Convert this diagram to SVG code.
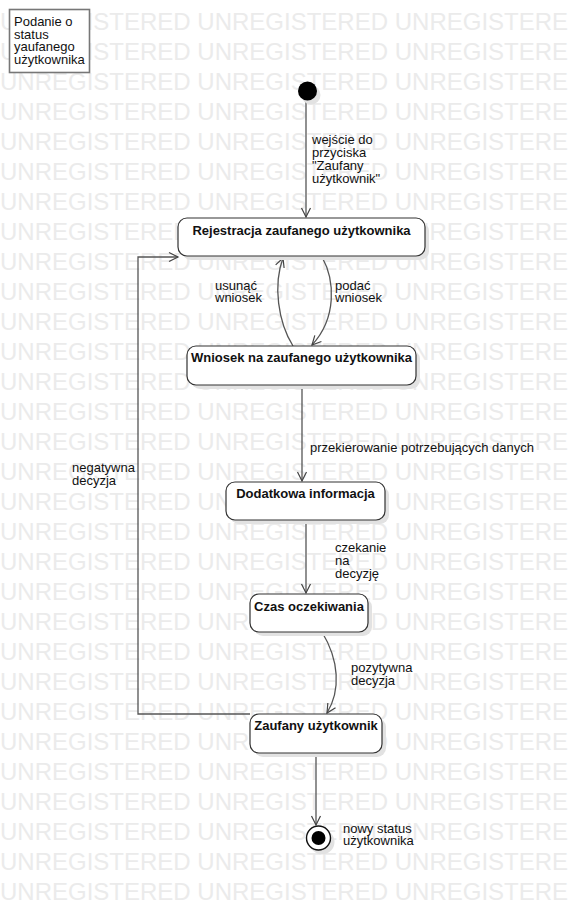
<svg xmlns="http://www.w3.org/2000/svg" width="573" height="908" viewBox="0 0 573 908">
<style>
.wm{font-family:"Liberation Sans",Arial,sans-serif;font-size:24px;fill:#ebebeb}
.t{font-family:"Liberation Sans",Arial,sans-serif;font-size:13px;fill:#111}
.b{font-family:"Liberation Sans",Arial,sans-serif;font-size:13px;font-weight:bold;fill:#111;text-anchor:middle}
.box{fill:#fff;stroke:#333;stroke-width:1.2}
.sh{fill:#e2e2e2}
.c{fill:none;stroke:#555;stroke-width:1.3}
</style>
<defs>
<marker id="arr" markerWidth="12" markerHeight="12" refX="10" refY="6" orient="auto" markerUnits="userSpaceOnUse">
<path d="M1,1.5 L10,6 L1,10.5" fill="none" stroke="#444" stroke-width="1.2"/>
</marker>
</defs>
<rect width="573" height="908" fill="#fff"/>
<g id="watermark">
<text class="wm" x="0" y="30">UNREGISTERED UNREGISTERED UNREGISTERE</text>
<text class="wm" x="0" y="60">UNREGISTERED UNREGISTERED UNREGISTERE</text>
<text class="wm" x="0" y="90">UNREGISTERED UNREGISTERED UNREGISTERE</text>
<text class="wm" x="0" y="120">UNREGISTERED UNREGISTERED UNREGISTERE</text>
<text class="wm" x="0" y="150">UNREGISTERED UNREGISTERED UNREGISTERE</text>
<text class="wm" x="0" y="180">UNREGISTERED UNREGISTERED UNREGISTERE</text>
<text class="wm" x="0" y="210">UNREGISTERED UNREGISTERED UNREGISTERE</text>
<text class="wm" x="0" y="240">UNREGISTERED UNREGISTERED UNREGISTERE</text>
<text class="wm" x="0" y="270">UNREGISTERED UNREGISTERED UNREGISTERE</text>
<text class="wm" x="0" y="300">UNREGISTERED UNREGISTERED UNREGISTERE</text>
<text class="wm" x="0" y="330">UNREGISTERED UNREGISTERED UNREGISTERE</text>
<text class="wm" x="0" y="360">UNREGISTERED UNREGISTERED UNREGISTERE</text>
<text class="wm" x="0" y="390">UNREGISTERED UNREGISTERED UNREGISTERE</text>
<text class="wm" x="0" y="420">UNREGISTERED UNREGISTERED UNREGISTERE</text>
<text class="wm" x="0" y="450">UNREGISTERED UNREGISTERED UNREGISTERE</text>
<text class="wm" x="0" y="480">UNREGISTERED UNREGISTERED UNREGISTERE</text>
<text class="wm" x="0" y="510">UNREGISTERED UNREGISTERED UNREGISTERE</text>
<text class="wm" x="0" y="540">UNREGISTERED UNREGISTERED UNREGISTERE</text>
<text class="wm" x="0" y="570">UNREGISTERED UNREGISTERED UNREGISTERE</text>
<text class="wm" x="0" y="600">UNREGISTERED UNREGISTERED UNREGISTERE</text>
<text class="wm" x="0" y="630">UNREGISTERED UNREGISTERED UNREGISTERE</text>
<text class="wm" x="0" y="660">UNREGISTERED UNREGISTERED UNREGISTERE</text>
<text class="wm" x="0" y="690">UNREGISTERED UNREGISTERED UNREGISTERE</text>
<text class="wm" x="0" y="720">UNREGISTERED UNREGISTERED UNREGISTERE</text>
<text class="wm" x="0" y="750">UNREGISTERED UNREGISTERED UNREGISTERE</text>
<text class="wm" x="0" y="780">UNREGISTERED UNREGISTERED UNREGISTERE</text>
<text class="wm" x="0" y="810">UNREGISTERED UNREGISTERED UNREGISTERE</text>
<text class="wm" x="0" y="840">UNREGISTERED UNREGISTERED UNREGISTERE</text>
<text class="wm" x="0" y="870">UNREGISTERED UNREGISTERED UNREGISTERE</text>
<text class="wm" x="0" y="900">UNREGISTERED UNREGISTERED UNREGISTERE</text>
</g>
<g id="note">
<rect x="9.5" y="9.5" width="80" height="63" fill="#fff" stroke="#777" stroke-width="1.6"/>
<text class="t" x="14" y="26">Podanie o</text>
<text class="t" x="14" y="38.5">status</text>
<text class="t" x="14" y="51">yaufanego</text>
<text class="t" x="14" y="63.5">użytkownika</text>
</g>
<g id="connectors">
<line class="c" x1="306" y1="100" x2="306" y2="217" marker-end="url(#arr)"/>
<text class="t" x="312" y="144">wejście do</text>
<text class="t" x="312" y="157">przyciska</text>
<text class="t" x="312" y="170">"Zaufany</text>
<text class="t" x="312" y="183">użytkownik"</text>
<path class="c" d="M293,346 C278,322 273,285 283,258" marker-end="url(#arr)"/>
<text class="t" x="215" y="290">usunąć</text>
<text class="t" x="215" y="302">wniosek</text>
<path class="c" d="M322,257 C335,280 337,318 312,345" marker-end="url(#arr)"/>
<text class="t" x="335" y="290">podać</text>
<text class="t" x="335" y="302">wniosek</text>
<line class="c" x1="302" y1="385" x2="302" y2="481" marker-end="url(#arr)"/>
<text class="t" x="310" y="452">przekierowanie potrzebujących danych</text>
<line class="c" x1="306" y1="520" x2="306" y2="593" marker-end="url(#arr)"/>
<text class="t" x="335" y="552">czekanie</text>
<text class="t" x="335" y="565">na</text>
<text class="t" x="335" y="578">decyzję</text>
<path class="c" d="M322,632 C339,660 341,690 327,713" marker-end="url(#arr)"/>
<text class="t" x="351" y="672">pozytywna</text>
<text class="t" x="351" y="685">decyzja</text>
<polyline class="c" points="250,714 138,714 138,257 178,257" marker-end="url(#arr)"/>
<text class="t" x="72" y="472">negatywna</text>
<text class="t" x="72" y="485">decyzja</text>
<line class="c" x1="316" y1="753" x2="316" y2="825" marker-end="url(#arr)"/>
<text class="t" x="343" y="833">nowy status</text>
<text class="t" x="343" y="845">użytkownika</text>
</g>
<g id="start">
<circle cx="311" cy="95" r="9.5" class="sh"/>
<circle cx="307.5" cy="91" r="9.5" fill="#000"/>
</g>
<g id="rejestracja">
<rect class="sh" x="182" y="222" width="247" height="38" rx="9"/>
<rect class="box" x="178" y="218" width="247" height="38" rx="9"/>
<text class="b" x="301.5" y="235">Rejestracja zaufanego użytkownika</text>
</g>
<g id="wniosek">
<rect class="sh" x="191" y="350" width="229" height="39" rx="9"/>
<rect class="box" x="187" y="346" width="229" height="39" rx="9"/>
<text class="b" x="301.5" y="362">Wniosek na zaufanego użytkownika</text>
</g>
<g id="dodatkowa">
<rect class="sh" x="230" y="486" width="159" height="38" rx="9"/>
<rect class="box" x="226" y="482" width="159" height="38" rx="9"/>
<text class="b" x="305.5" y="498">Dodatkowa informacja</text>
</g>
<g id="czas">
<rect class="sh" x="254" y="598" width="118" height="38" rx="9"/>
<rect class="box" x="250" y="594" width="118" height="38" rx="9"/>
<text class="b" x="309" y="611">Czas oczekiwania</text>
</g>
<g id="zaufany">
<rect class="sh" x="254" y="718" width="132" height="39" rx="9"/>
<rect class="box" x="250" y="714" width="132" height="39" rx="9"/>
<text class="b" x="316" y="730">Zaufany użytkownik</text>
</g>
<g id="end">
<circle cx="322" cy="842" r="12.5" class="sh"/>
<circle cx="318.5" cy="838" r="12" fill="#fff" stroke="#111" stroke-width="1.4"/>
<circle cx="318.5" cy="838" r="7" fill="#000"/>
</g>
</svg>
